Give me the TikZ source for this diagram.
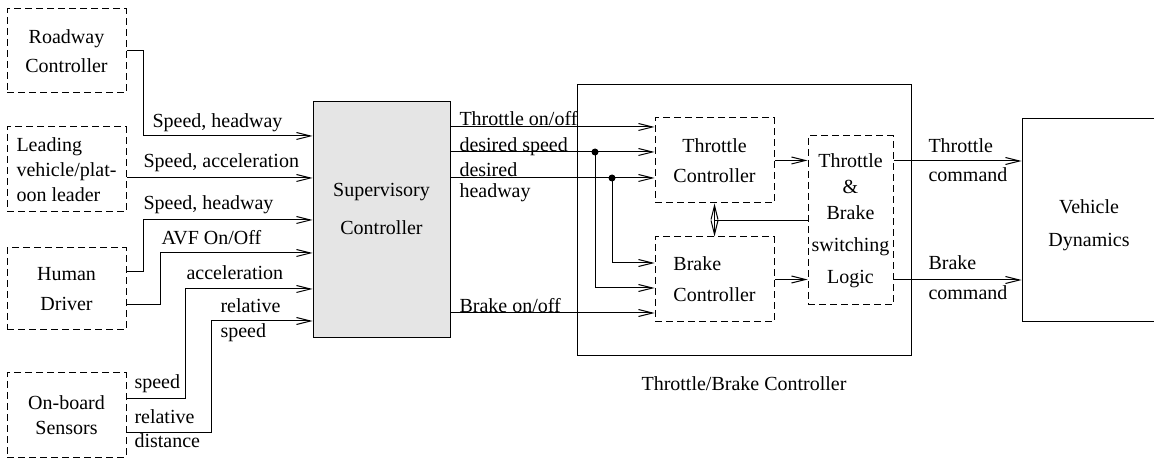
\documentclass[tikz,border=0pt]{standalone}
\usepackage{fontspec}
\setmainfont{Liberation Serif}
\usetikzlibrary{shapes}
\usetikzlibrary{arrows.meta}
\usetikzlibrary{positioning}

\begin{document}
\begin{tikzpicture}[x=0.5pt,y=-0.5pt,line width=0.5pt,>={Straight Barb[length=7pt,width=3.5pt]},
						font=\fontsize{10}{12}\selectfont,every node/.style={inner sep=0pt},
						dbox/.style={draw,dashed,dash pattern=on 3.5pt off 2pt,align=center},
						sbox/.style={draw,align=center},
						lbl/.style={anchor=base west},
						dot/.style={circle,fill,minimum size=3.5pt}
						]
						\useasboundingbox (0,0) rectangle (1154,458);
						\node[dbox,minimum width=59.5pt,minimum height=42pt,font=\fontsize{10}{14.5}\selectfont] (road) at (66.5,51) {Roadway\\Controller};
						\node[dbox,minimum width=59.5pt,minimum height=42.5pt,align=left,font=\fontsize{10}{12.5}\selectfont] (lead) at (66.5,169.5) {Leading\\vehicle/plat-\\oon leader};
						\node[dbox,minimum width=59.5pt,minimum height=41pt,font=\fontsize{10}{15}\selectfont] (human) at (66.5,289) {Human\\Driver};
						\node[dbox,minimum width=59.5pt,minimum height=42pt,font=\fontsize{10}{12.5}\selectfont] (sens) at (66.5,415) {On-board\\Sensors};
						\node[sbox,fill=black!10,minimum width=68.5pt,minimum height=118pt,text depth=11pt,font=\fontsize{10}{19}\selectfont] (sup) at (381.5,220) {Supervisory\\Controller};
						\node[sbox,minimum width=167pt,minimum height=135.5pt] (tbc) at (744,220.5) {};
						\node[below=10pt of tbc] (cap) {Throttle/Brake Controller};
						\node[dbox,minimum width=59.5pt,minimum height=42.5pt,font=\fontsize{10}{15}\selectfont] (tc) at (714.5,160.5) {Throttle\\Controller};
						\node[dbox,minimum width=59.5pt,minimum height=42.5pt,align=left,font=\fontsize{10}{15.5}\selectfont] (bc) at (714.5,279.5) {Brake\\Controller};
						\node[dbox,minimum width=42.5pt,minimum height=84.5pt,font=\fontsize{10}{13}\selectfont] (sw) at (850.5,220.5) {Throttle\\\&\\Brake\\[3pt]switching\\[3pt]Logic};
						\node[sbox,minimum width=67pt,minimum height=101.5pt,text height=28pt,font=\fontsize{10}{16.5}\selectfont] (veh) at (1089,220.5) {Vehicle\\Dynamics};

						\draw[->] (road.east) -- ++(17,0) |- ([yshift=42pt]sup.west);
						\draw[->] ([yshift=-4.25pt]lead.east) -- ([yshift=21pt]sup.west);
						\draw[->] ([yshift=8.5pt]human.east) -- ++(17,0) |- (sup.west);
						\draw[->] ([yshift=-8pt]human.east) -- ++(34,0) |- ([yshift=-16.5pt]sup.west);
						\draw[->] ([yshift=8.5pt]sens.east) -- ++(59,0) |- ([yshift=-34.5pt]sup.west);
						\draw[->] ([yshift=-8.5pt]sens.east) -- ++(85,0) |- ([yshift=-50.5pt]sup.west);
						\node[lbl] (l1) at (152,128) {Speed, headway};
						\node[lbl] (l2) at (143,168) {Speed, acceleration};
						\node[lbl] (l3) at (143,210) {Speed, headway};
						\node[lbl] (l4) at (161,245) {AVF On/Off};
						\node[lbl] (l5) at (186,280) {acceleration};
						\node[lbl] (l6) at (220,313) {relative};
						\node[lbl] (l7) at (220,338) {speed};
						\node[lbl] (l8) at (134,388) {speed};
						\node[lbl] (l9) at (134,423) {relative};
						\node[lbl] (l10) at (134,447) {distance};

						\node[dot] (d1) at (595,152) {};
						\node[dot] (d2) at (612,178) {};
						\draw[->] ([yshift=46.5pt]sup.east) -- ([yshift=16.75pt]tc.west);
						\draw[->] ([yshift=34pt]sup.east) -- ([yshift=4.25pt]tc.west);
						\draw[->] ([yshift=21pt]sup.east) -- ([yshift=-8.75pt]tc.west);
						\draw[->] ([yshift=-46.5pt]sup.east) -- ([yshift=-16.75pt]bc.west);
						\draw[->] (d1.center) |- ([yshift=-4.25pt]bc.west);
						\draw[->] (d2.center) |- ([yshift=8.25pt]bc.west);
						\node[lbl] (o1) at (459,126) {Throttle on/off};
						\node[lbl] (o2) at (459,152) {desired speed};
						\node[lbl] (o3) at (459,177) {desired};
						\node[lbl] (o4) at (459,198) {headway};
						\node[lbl] (o5) at (459,313) {Brake on/off};

						\draw[->] (tc.east) -- (tc.east -| sw.west);
						\draw[->] (bc.east) -- (bc.east -| sw.west);
						\draw[<->] (tc.south) -- (bc.north);
						\draw (sw.west) -- (sw.west -| tc.south);
						\coordinate (swt) at ([yshift=29.75pt]sw.east);
						\coordinate (swb) at ([yshift=-29.75pt]sw.east);
						\draw[->] (swt) -- (swt -| veh.west);
						\draw[->] (swb) -- (swb -| veh.west);
						\node[lbl] (c1) at (928,153) {Throttle};
						\node[lbl] (c2) at (928,182) {command};
						\node[lbl] (c3) at (928,270) {Brake};
						\node[lbl] (c4) at (928,300) {command};
						\end{tikzpicture}
\end{document}
